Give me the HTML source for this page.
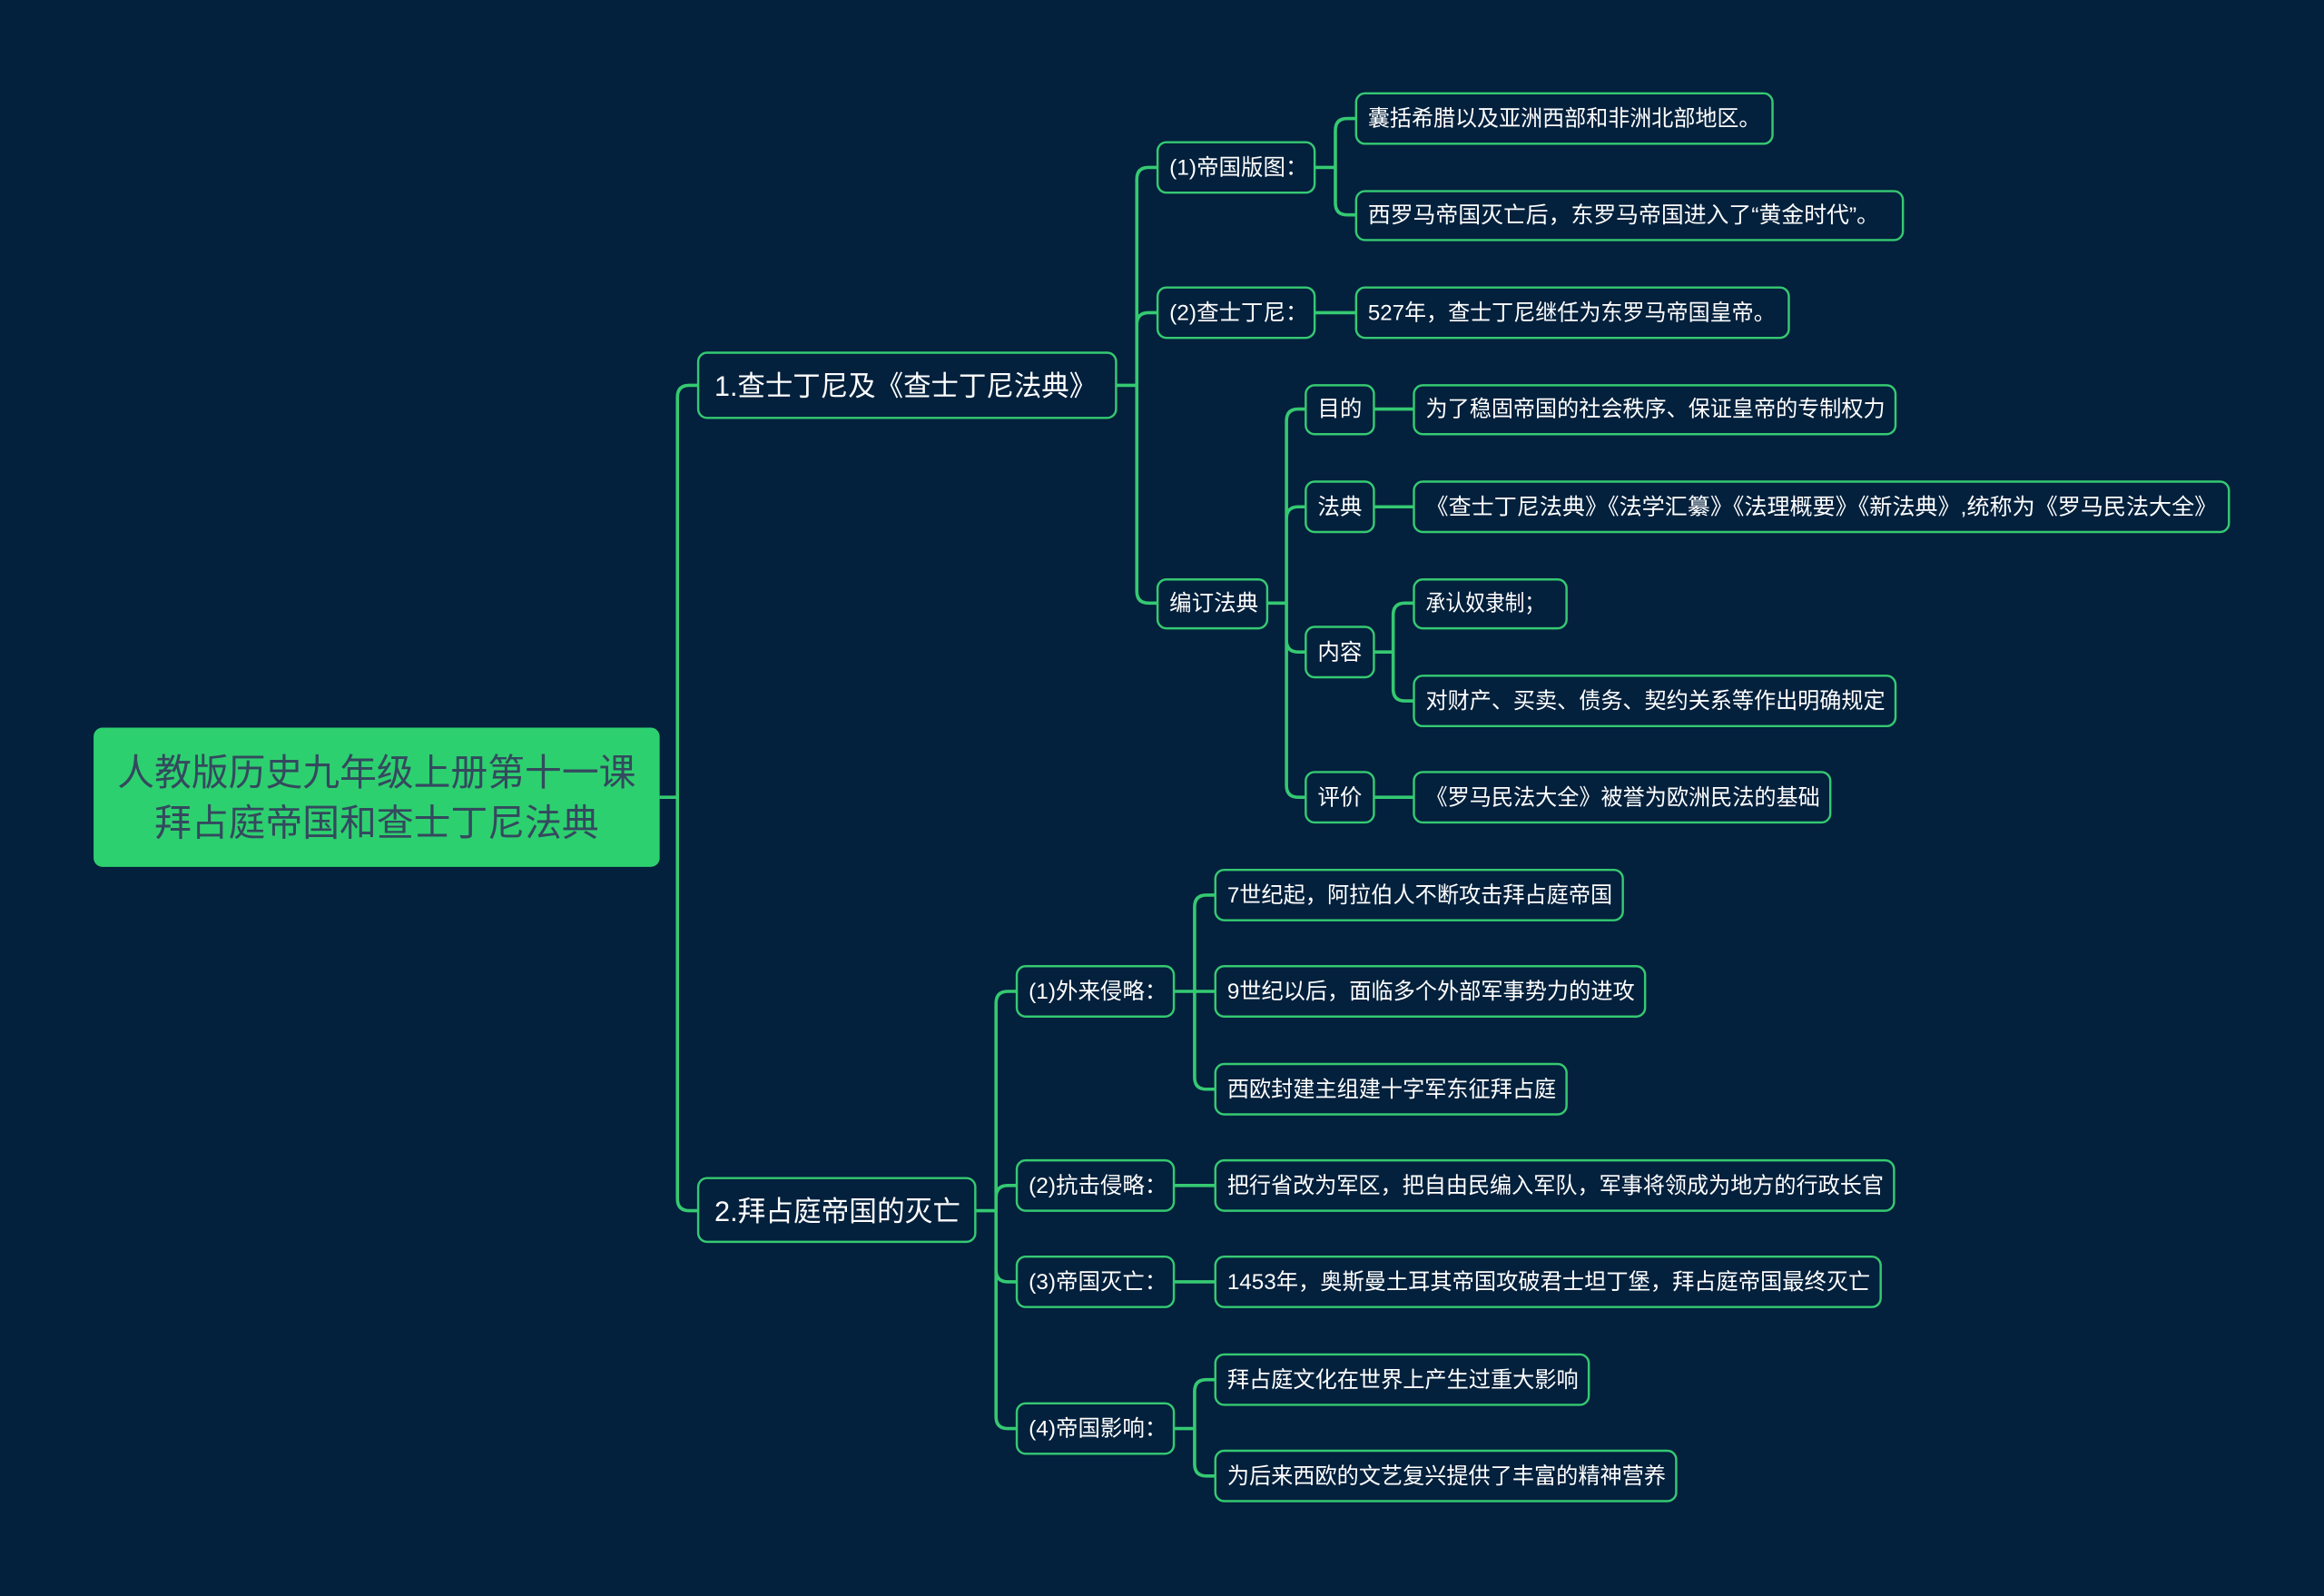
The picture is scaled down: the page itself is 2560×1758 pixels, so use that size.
<!DOCTYPE html>
<html><head><meta charset="utf-8"><style>
html,body{margin:0;padding:0;background:#03203c;}
svg{display:block}
text{font-family:"Liberation Sans","Noto Sans CJK SC",sans-serif;fill:#ffffff;}
</style></head><body>
<svg width="2560" height="1758" viewBox="0 0 1568 1077" xmlns="http://www.w3.org/2000/svg">
<rect width="1568" height="1077" fill="#03203c"/>
<g fill="none" stroke="#35c972" stroke-width="2.2">
<path d="M445 538H457M457 538V268Q457 260 465 260H471M457 538V809Q457 817 465 817H471"/>
<path d="M753 260H767M767 260V121Q767 113 775 113H781M767 260V219Q767 211 775 211H781M767 260V399Q767 407 775 407H781"/>
<path d="M887 113H901M901 113V88Q901 80 909 80H915M901 113V137Q901 145 909 145H915"/>
<path d="M887 211H915"/>
<path d="M855 407H868M868 407V284Q868 276 876 276H881M868 407V350Q868 342 876 342H881M868 407V432Q868 440 876 440H881M868 407V530Q868 538 876 538H881"/>
<path d="M927 276H954M927 342H954M927 538H954"/>
<path d="M927 440H940M940 440V415Q940 407 948 407H954M940 440V465Q940 473 948 473H954"/>
<path d="M658 817H672M672 817V677Q672 669 680 669H686M672 817V808Q672 800 680 800H686M672 817V857Q672 865 680 865H686M672 817V956Q672 964 680 964H686"/>
<path d="M792 669H806M806 669V612Q806 604 814 604H820M806 669H820M806 669V727Q806 735 814 735H820"/>
<path d="M792 800H820M792 865H820"/>
<path d="M792 964H806M806 964V939Q806 931 814 931H820M806 964V988Q806 996 814 996H820"/>
</g>
<rect x="63" y="491" width="382" height="94" rx="6" fill="#2dd06f"/>
<text x="254" y="530" font-size="25" text-anchor="middle" style="fill:#34495e">人教版历史九年级上册第十一课</text>
<text x="254" y="564" font-size="25" text-anchor="middle" style="fill:#34495e">拜占庭帝国和查士丁尼法典</text>
<g fill="#03203c" stroke="#35c972" stroke-width="1.5">
<rect x="471" y="238" width="282" height="44" rx="6"/>
<rect x="471" y="795" width="187" height="43" rx="6"/>
<rect x="781" y="96" width="106" height="34" rx="6"/>
<rect x="781" y="194" width="106" height="34" rx="6"/>
<rect x="781" y="391" width="74" height="33" rx="6"/>
<rect x="915" y="63" width="281" height="34" rx="6"/>
<rect x="915" y="129" width="369" height="33" rx="6"/>
<rect x="915" y="194" width="292" height="34" rx="6"/>
<rect x="881" y="260" width="46" height="33" rx="6"/>
<rect x="881" y="325" width="46" height="34" rx="6"/>
<rect x="881" y="423" width="46" height="34" rx="6"/>
<rect x="881" y="521" width="46" height="34" rx="6"/>
<rect x="954" y="260" width="325" height="33" rx="6"/>
<rect x="954" y="325" width="550" height="34" rx="6"/>
<rect x="954" y="391" width="103" height="33" rx="6"/>
<rect x="954" y="456" width="325" height="34" rx="6"/>
<rect x="954" y="521" width="281" height="34" rx="6"/>
<rect x="686" y="652" width="106" height="34" rx="6"/>
<rect x="686" y="783" width="106" height="34" rx="6"/>
<rect x="686" y="848" width="106" height="34" rx="6"/>
<rect x="686" y="947" width="106" height="34" rx="6"/>
<rect x="820" y="587" width="275" height="34" rx="6"/>
<rect x="820" y="652" width="290" height="34" rx="6"/>
<rect x="820" y="718" width="237" height="34" rx="6"/>
<rect x="820" y="783" width="458" height="34" rx="6"/>
<rect x="820" y="848" width="449" height="34" rx="6"/>
<rect x="820" y="914" width="252" height="34" rx="6"/>
<rect x="820" y="979" width="311" height="34" rx="6"/>
</g>
<g font-size="19">
<text x="482" y="267" textLength="258" lengthAdjust="spacingAndGlyphs">1.查士丁尼及《查士丁尼法典》</text>
<text x="482" y="824" textLength="166" lengthAdjust="spacingAndGlyphs">2.拜占庭帝国的灭亡</text>
</g>
<g font-size="15">
<text x="789" y="118">(1)帝国版图：</text>
<text x="789" y="216">(2)查士丁尼：</text>
<text x="789" y="412">编订法典</text>
<text x="923" y="85" textLength="265" lengthAdjust="spacingAndGlyphs">囊括希腊以及亚洲西部和非洲北部地区。</text>
<text x="923" y="150" textLength="345" lengthAdjust="spacingAndGlyphs">西罗马帝国灭亡后，东罗马帝国进入了“黄金时代”。</text>
<text x="923" y="216" textLength="275" lengthAdjust="spacingAndGlyphs">527年，查士丁尼继任为东罗马帝国皇帝。</text>
<text x="889" y="281">目的</text>
<text x="889" y="347">法典</text>
<text x="889" y="445">内容</text>
<text x="889" y="543">评价</text>
<text x="962" y="281" textLength="310" lengthAdjust="spacingAndGlyphs">为了稳固帝国的社会秩序、保证皇帝的专制权力</text>
<text x="962" y="347" textLength="534" lengthAdjust="spacingAndGlyphs">《查士丁尼法典》《法学汇纂》《法理概要》《新法典》,统称为《罗马民法大全》</text>
<text x="962" y="412" textLength="80" lengthAdjust="spacingAndGlyphs">承认奴隶制；</text>
<text x="962" y="478" textLength="310" lengthAdjust="spacingAndGlyphs">对财产、买卖、债务、契约关系等作出明确规定</text>
<text x="962" y="543" textLength="266" lengthAdjust="spacingAndGlyphs">《罗马民法大全》被誉为欧洲民法的基础</text>
<text x="694" y="674">(1)外来侵略：</text>
<text x="694" y="805">(2)抗击侵略：</text>
<text x="694" y="870">(3)帝国灭亡：</text>
<text x="694" y="969">(4)帝国影响：</text>
<text x="828" y="609" textLength="260" lengthAdjust="spacingAndGlyphs">7世纪起，阿拉伯人不断攻击拜占庭帝国</text>
<text x="828" y="674" textLength="275" lengthAdjust="spacingAndGlyphs">9世纪以后，面临多个外部军事势力的进攻</text>
<text x="828" y="740" textLength="222" lengthAdjust="spacingAndGlyphs">西欧封建主组建十字军东征拜占庭</text>
<text x="828" y="805" textLength="443" lengthAdjust="spacingAndGlyphs">把行省改为军区，把自由民编入军队，军事将领成为地方的行政长官</text>
<text x="828" y="870" textLength="434" lengthAdjust="spacingAndGlyphs">1453年，奥斯曼土耳其帝国攻破君士坦丁堡，拜占庭帝国最终灭亡</text>
<text x="828" y="936" textLength="237" lengthAdjust="spacingAndGlyphs">拜占庭文化在世界上产生过重大影响</text>
<text x="828" y="1001" textLength="296" lengthAdjust="spacingAndGlyphs">为后来西欧的文艺复兴提供了丰富的精神营养</text>
</g>
</svg>
</body></html>
